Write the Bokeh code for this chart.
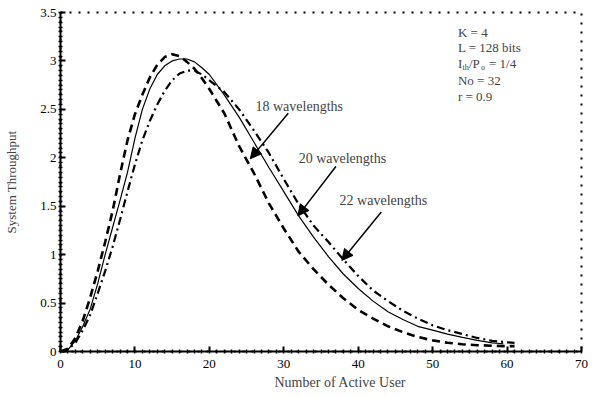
from bokeh.plotting import figure
from bokeh.models import FixedTicker, Label, Arrow, NormalHead, Range1d, Title
from bokeh.embed import file_html
from bokeh.resources import INLINE

# ---- data ----
users_18 = [0, 1, 2, 3, 4, 5, 6, 7, 8, 9, 10, 11, 12, 13, 14, 15, 16, 17, 18, 19, 20,
            22, 24, 26, 28, 30, 32, 34, 36, 38, 40, 42, 44, 46, 48, 50, 52, 54, 56, 58, 60, 61]
thr_18 = [0, 0.03, 0.14, 0.32, 0.56, 0.83, 1.13, 1.45, 1.83, 2.18, 2.45, 2.65, 2.83, 2.96, 3.04,
          3.07, 3.05, 2.99, 2.92, 2.82, 2.71, 2.46, 2.12, 1.84, 1.53, 1.27, 1.03, 0.85, 0.69, 0.55,
          0.43, 0.34, 0.26, 0.2, 0.15, 0.115, 0.09, 0.075, 0.065, 0.06, 0.055, 0.055]

users_20 = [0, 1, 2, 3, 4, 5, 6, 7, 8, 9, 10, 11, 12, 13, 14, 15, 16, 17, 18, 19, 20,
            22, 24, 26, 28, 30, 32, 34, 36, 38, 40, 42, 44, 46, 48, 50, 52, 54, 56, 58, 59.5]
thr_20 = [0, 0.02, 0.11, 0.26, 0.44, 0.7, 1.0, 1.28, 1.56, 1.85, 2.2, 2.5, 2.71, 2.86, 2.95,
          3.0, 3.02, 3.02, 2.99, 2.93, 2.86, 2.65, 2.42, 2.16, 1.9, 1.65, 1.4, 1.18, 0.98, 0.8,
          0.65, 0.52, 0.41, 0.33, 0.26, 0.22, 0.18, 0.145, 0.115, 0.09, 0.08]

users_22 = [0, 1, 2, 3, 4, 5, 6, 7, 8, 9, 10, 11, 12, 13, 14, 15, 16, 17, 18, 19, 20,
            22, 24, 26, 28, 30, 32, 34, 36, 38, 40, 42, 44, 46, 48, 50, 52, 54, 56, 58, 60, 61]
thr_22 = [0, 0.02, 0.09, 0.22, 0.38, 0.6, 0.83, 1.08, 1.36, 1.65, 1.93, 2.18, 2.38, 2.55, 2.69,
          2.8, 2.87, 2.9, 2.9, 2.86, 2.8, 2.68, 2.5, 2.28, 2.05, 1.78, 1.52, 1.3, 1.13, 0.95,
          0.78, 0.63, 0.52, 0.42, 0.34, 0.27, 0.22, 0.18, 0.14, 0.11, 0.095, 0.09]

x_ticks = [0, 10, 20, 30, 40, 50, 60, 70]
y_ticks = [0, 0.5, 1, 1.5, 2, 2.5, 3, 3.5]
y_tick_labels = ["0", "0.5", "1", "1.5", "2", "2.5", "3", "3.5"]

params = ["K = 4", "L = 128  bits", None, "No = 32", "r = 0.9"]

FONT = "Liberation Serif"

p = figure(width=594, height=397, output_backend="svg", toolbar_location=None,
           x_range=Range1d(0, 70), y_range=Range1d(0, 3.5),
           min_border_left=60, min_border_right=13, min_border_top=12, min_border_bottom=46)
p.background_fill_color = "white"
p.border_fill_color = "white"
p.xgrid.visible = False
p.ygrid.visible = False
p.outline_line_color = "black"
p.outline_line_width = 2
p.outline_line_dash = "2 7"

for ax in (p.xaxis[0], p.yaxis[0]):
    ax.axis_line_width = 2
    ax.axis_line_color = "black"
    ax.major_tick_in = 5
    ax.major_tick_out = 0
    ax.major_tick_line_width = 2
    ax.minor_tick_in = 2
    ax.minor_tick_out = 2
    ax.minor_tick_line_width = 1.5
    ax.major_label_text_font = FONT
    ax.major_label_text_font_size = "13px"
    ax.major_label_text_color = "black"
    ax.axis_label_text_font = FONT
    ax.axis_label_text_font_style = "normal"
    ax.axis_label_text_font_size = "13px"

p.xaxis.ticker = FixedTicker(ticks=x_ticks, minor_ticks=list(range(0, 71)))
p.yaxis.ticker = FixedTicker(ticks=y_ticks, minor_ticks=[i * 0.05 for i in range(71)])
p.yaxis.major_label_overrides = {t: l for t, l in zip(y_ticks, y_tick_labels)}
p.xaxis.major_label_standoff = 6
p.yaxis.major_label_standoff = 2
p.yaxis.axis_label = "System Throughput"
p.yaxis.axis_label_standoff = 18

# x-axis title (placed slightly right of centre like the reference)
p.add_layout(Title(text="Number of Active User", text_font=FONT, text_font_size="14px",
                   text_font_style="normal", align="left", offset=214, standoff=4), "below")

# curves
p.line(users_18, thr_18, line_color="black", line_width=2.6, line_dash="8 5")
p.line(users_20, thr_20, line_color="black", line_width=1.2)
p.line(users_22, thr_22, line_color="black", line_width=2.2, line_dash="8 4 2 4")

# curve labels and arrows
curve_labels = [("18 wavelengths", 26.2, 2.53, 30.6, 2.46, 25.5, 1.99),
                ("20 wavelengths", 32.0, 1.99, 37.0, 1.91, 31.9, 1.40),
                ("22 wavelengths", 37.5, 1.56, 43.1, 1.44, 37.8, 0.94)]
for txt, lx, ly, x0, y0, x1, y1 in curve_labels:
    p.add_layout(Label(x=lx, y=ly, text=txt, text_font=FONT, text_font_size="14px",
                       text_baseline="middle"))
    p.add_layout(Arrow(x_start=x0, y_start=y0, x_end=x1, y_end=y1, line_width=1.5,
                       line_color="black",
                       end=NormalHead(size=11, fill_color="black", line_color="black")))

# parameter block
px0 = 53.4
rows_y = [(351 - 32) / 97, (351 - 47) / 97, (351 - 63) / 97, (351 - 80) / 97, (351 - 96) / 97]
for t, yy in zip(params, rows_y):
    if t is None:
        continue
    p.add_layout(Label(x=px0, y=yy, text=t, text_font=FONT, text_font_size="13px",
                       text_baseline="middle"))
yy = rows_y[2]
for t, off, size, yoff in [("I", 0, "13px", 0), ("th", 4.5, "8px", -4), ("/P", 11, "13px", 0),
                           ("o", 23, "8px", -4), ("= 1/4", 31, "13px", 0)]:
    p.add_layout(Label(x=px0, y=yy, x_offset=off, y_offset=yoff, text=t, text_font=FONT,
                       text_font_size=size, text_baseline="middle"))

open("out.html", "w").write(file_html(p, INLINE))
